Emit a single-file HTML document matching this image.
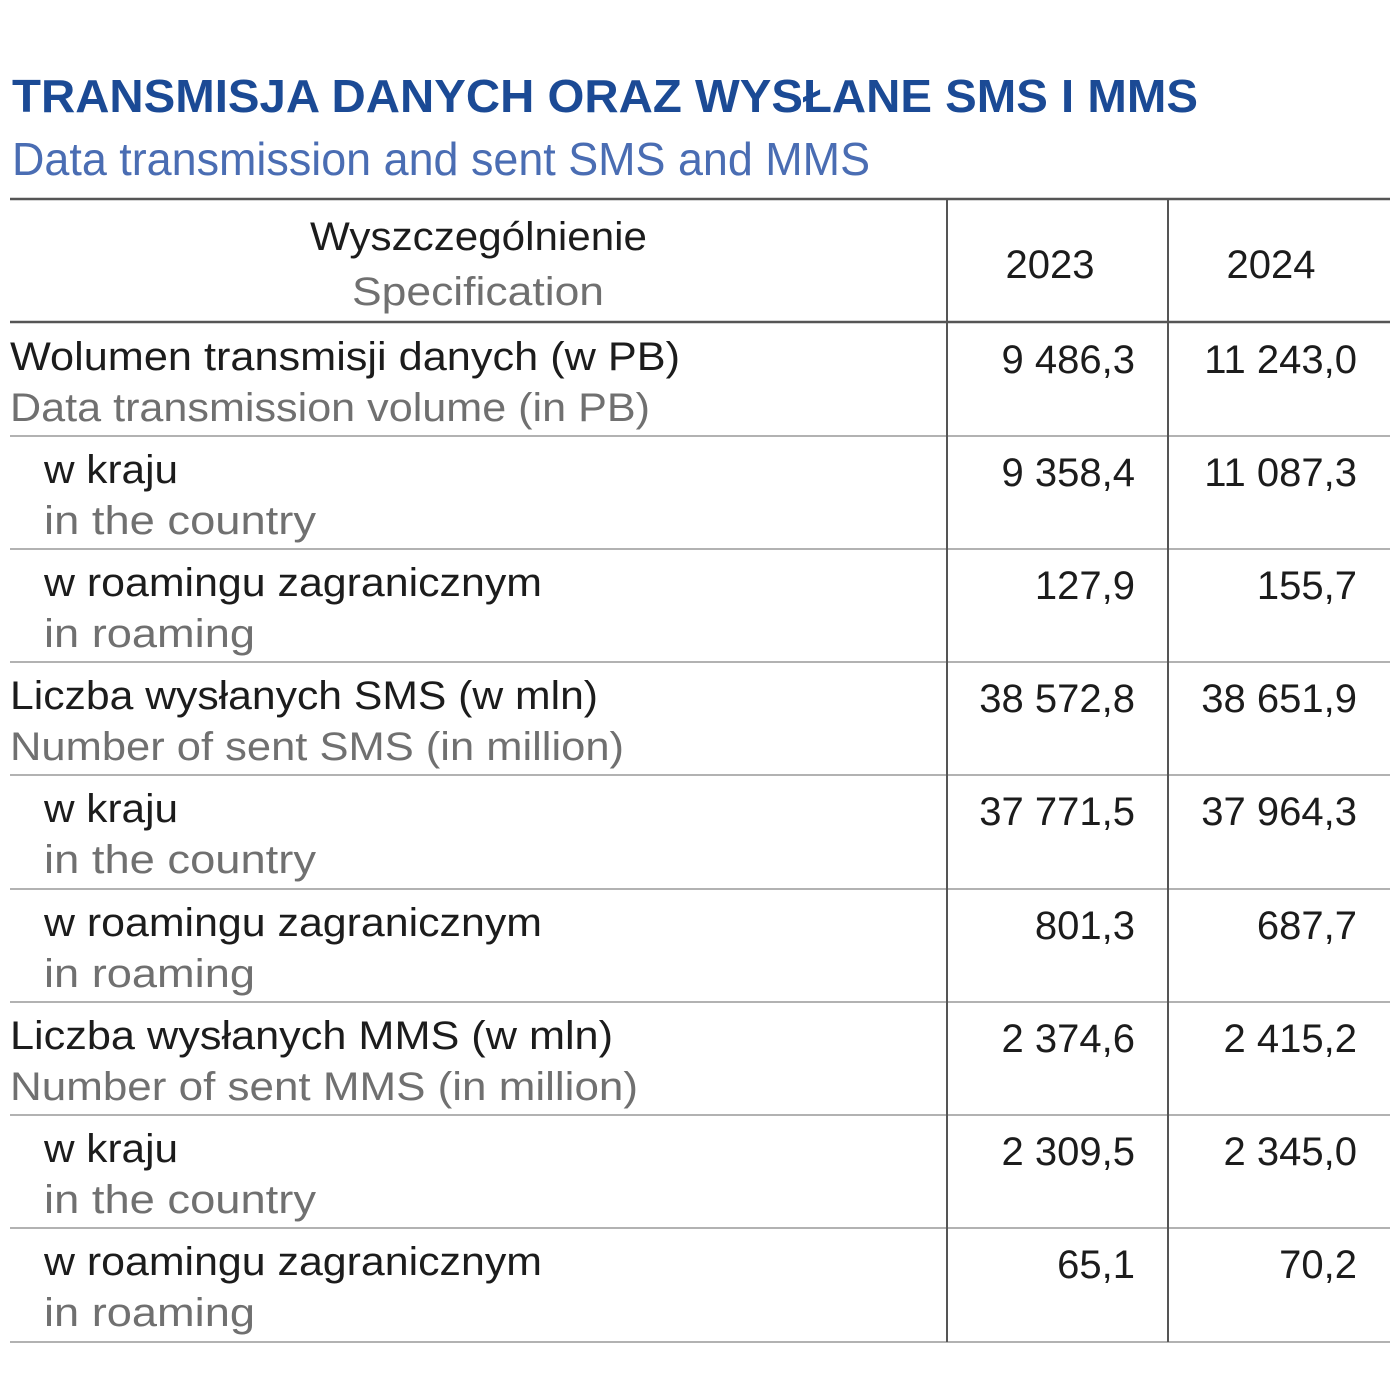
<!DOCTYPE html>
<html><head><meta charset="utf-8"><style>
html,body{margin:0;padding:0;background:#fff;}
svg{display:block;}
text{font-family:"Liberation Sans",sans-serif;}
.b{fill:#1c1c1c;font-size:40px;}
.g{fill:#707070;font-size:40px;}
.n{fill:#1c1c1c;font-size:40px;text-anchor:end;}
</style></head><body>
<svg width="1400" height="1400" viewBox="0 0 1400 1400" xmlns="http://www.w3.org/2000/svg">
<rect width="1400" height="1400" fill="#fff"/>
<text x="12" y="112" font-size="46" font-weight="bold" fill="#1b4a95" textLength="1186" lengthAdjust="spacingAndGlyphs">TRANSMISJA DANYCH ORAZ WYSŁANE SMS I MMS</text>
<text x="12" y="175" font-size="46" fill="#4a6db3" textLength="858" lengthAdjust="spacingAndGlyphs">Data transmission and sent SMS and MMS</text>
<line x1="10" y1="199" x2="1390" y2="199" stroke="#555" stroke-width="2.5"/>
<line x1="10" y1="322" x2="1390" y2="322" stroke="#555" stroke-width="2.5"/>
<g stroke="#999" stroke-width="1.5">
<line x1="10" y1="436" x2="1390" y2="436"/>
<line x1="10" y1="549" x2="1390" y2="549"/>
<line x1="10" y1="662" x2="1390" y2="662"/>
<line x1="10" y1="775" x2="1390" y2="775"/>
<line x1="10" y1="889" x2="1390" y2="889"/>
<line x1="10" y1="1002" x2="1390" y2="1002"/>
<line x1="10" y1="1115" x2="1390" y2="1115"/>
<line x1="10" y1="1228" x2="1390" y2="1228"/>
<line x1="10" y1="1342" x2="1390" y2="1342"/>
</g>
<line x1="947" y1="199" x2="947" y2="1342" stroke="#555" stroke-width="2"/>
<line x1="1168" y1="199" x2="1168" y2="1342" stroke="#555" stroke-width="2"/>
<text class="b" x="310" y="250" textLength="337" lengthAdjust="spacingAndGlyphs">Wyszczególnienie</text>
<text class="g" x="352" y="305" textLength="252" lengthAdjust="spacingAndGlyphs">Specification</text>
<text class="b" x="1050" y="278" text-anchor="middle">2023</text>
<text class="b" x="1271" y="278" text-anchor="middle">2024</text>

<text class="b" x="10" y="370" textLength="670" lengthAdjust="spacingAndGlyphs">Wolumen transmisji danych (w PB)</text>
<text class="g" x="10" y="421" textLength="640" lengthAdjust="spacingAndGlyphs">Data transmission volume (in PB)</text>
<text class="n" x="1135" y="373">9 486,3</text><text class="n" x="1357" y="373">11 243,0</text>

<text class="b" x="44" y="483" textLength="134" lengthAdjust="spacingAndGlyphs">w kraju</text>
<text class="g" x="44" y="534" textLength="272" lengthAdjust="spacingAndGlyphs">in the country</text>
<text class="n" x="1135" y="486">9 358,4</text><text class="n" x="1357" y="486">11 087,3</text>

<text class="b" x="44" y="596" textLength="498" lengthAdjust="spacingAndGlyphs">w roamingu zagranicznym</text>
<text class="g" x="44" y="647" textLength="211" lengthAdjust="spacingAndGlyphs">in roaming</text>
<text class="n" x="1135" y="599">127,9</text><text class="n" x="1357" y="599">155,7</text>

<text class="b" x="10" y="709" textLength="588" lengthAdjust="spacingAndGlyphs">Liczba wysłanych SMS (w mln)</text>
<text class="g" x="10" y="760" textLength="614" lengthAdjust="spacingAndGlyphs">Number of sent SMS (in million)</text>
<text class="n" x="1135" y="712">38 572,8</text><text class="n" x="1357" y="712">38 651,9</text>

<text class="b" x="44" y="822" textLength="134" lengthAdjust="spacingAndGlyphs">w kraju</text>
<text class="g" x="44" y="873" textLength="272" lengthAdjust="spacingAndGlyphs">in the country</text>
<text class="n" x="1135" y="825">37 771,5</text><text class="n" x="1357" y="825">37 964,3</text>

<text class="b" x="44" y="936" textLength="498" lengthAdjust="spacingAndGlyphs">w roamingu zagranicznym</text>
<text class="g" x="44" y="987" textLength="211" lengthAdjust="spacingAndGlyphs">in roaming</text>
<text class="n" x="1135" y="939">801,3</text><text class="n" x="1357" y="939">687,7</text>

<text class="b" x="10" y="1049" textLength="603" lengthAdjust="spacingAndGlyphs">Liczba wysłanych MMS (w mln)</text>
<text class="g" x="10" y="1100" textLength="628" lengthAdjust="spacingAndGlyphs">Number of sent MMS (in million)</text>
<text class="n" x="1135" y="1052">2 374,6</text><text class="n" x="1357" y="1052">2 415,2</text>

<text class="b" x="44" y="1162" textLength="134" lengthAdjust="spacingAndGlyphs">w kraju</text>
<text class="g" x="44" y="1213" textLength="272" lengthAdjust="spacingAndGlyphs">in the country</text>
<text class="n" x="1135" y="1165">2 309,5</text><text class="n" x="1357" y="1165">2 345,0</text>

<text class="b" x="44" y="1275" textLength="498" lengthAdjust="spacingAndGlyphs">w roamingu zagranicznym</text>
<text class="g" x="44" y="1326" textLength="211" lengthAdjust="spacingAndGlyphs">in roaming</text>
<text class="n" x="1135" y="1278">65,1</text><text class="n" x="1357" y="1278">70,2</text>
</svg>
</body></html>
